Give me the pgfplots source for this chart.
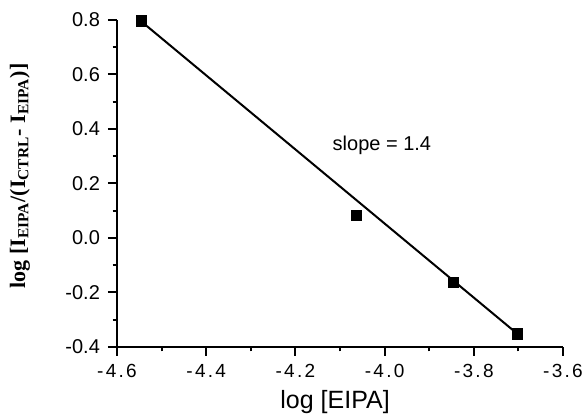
\documentclass[border=0pt]{standalone}
\usepackage{fontspec}
\setmainfont{Liberation Sans}
\newfontfamily\serifb{Liberation Serif}
\usepackage{pgfplots}
\pgfplotsset{compat=1.18}

\begin{document}
\begin{tikzpicture}
\begin{axis}[
  name=ax,
  at={(0,0)}, anchor=south west,
  scale only axis,
  width=223pt, height=163.5pt,
  xmin=-4.6, xmax=-3.6,
  ymin=-0.4, ymax=0.8,
  axis x line*=bottom,
  axis y line*=left,
  axis line style={line width=1.2pt, -},
  xtick={-4.6,-4.4,...,-3.6},
  ytick={-0.4,-0.2,...,0.8},
  minor tick num=1,
  tick align=outside,
  major tick length=4.5pt,
  minor tick length=2.2pt,
  every tick/.style={black, line width=1pt},
  /pgf/number format/assume math mode=true,
  /pgf/number format/.cd, fixed, fixed zerofill, precision=1,
  /pgfplots/.cd,
  xticklabel style={font=\fontsize{9.5}{11}\selectfont\addfontfeatures{LetterSpace=12}, yshift=-0.5pt},
  yticklabel style={font=\fontsize{10}{12}\selectfont, xshift=-0.5pt},
  xlabel={log [EIPA]},
  xlabel style={font=\fontsize{12.5}{14}\selectfont, at={(axis description cs:0.489,-0.168)}, anchor=center},
  ylabel={\serifb\bfseries log [I\textsubscript{EIPA}/(I\textsubscript{CTRL}- I\textsubscript{EIPA})]},
  ylabel style={font=\fontsize{11}{13}\selectfont, at={(axis description cs:-0.2175,0.523)}, anchor=center},
  clip=false,
]
\addplot[black, line width=1pt] coordinates {
  (-4.545,0.794) (-3.705,-0.348)
};
\addplot[only marks, mark=square*, mark size=2.6pt, black] coordinates {
  (-4.545,0.797) (-4.063,0.084) (-3.846,-0.164) (-3.702,-0.352)
};
\node[font=\fontsize{10}{12}\selectfont] at (axis cs:-4.006,0.341) {slope = 1.4};
\end{axis}
\pgfresetboundingbox
\useasboundingbox (-58.5pt,-34.5pt) rectangle (234pt,173.5pt);
\end{tikzpicture}
\end{document}
